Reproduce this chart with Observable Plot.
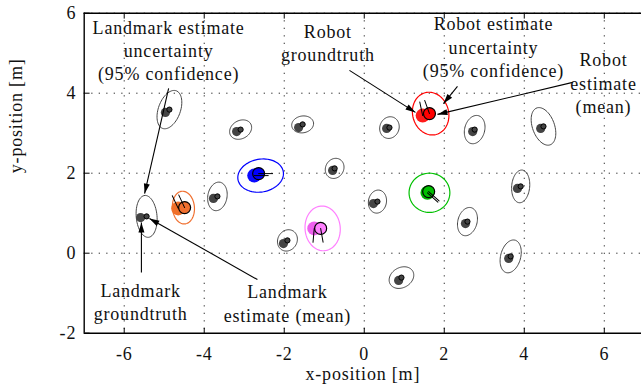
<!DOCTYPE html>
<html><head><meta charset="utf-8">
<script src="https://cdn.jsdelivr.net/npm/d3@7"></script>
<script src="https://cdn.jsdelivr.net/npm/@observablehq/plot@0.6"></script>
<style>body{margin:0;background:#fff} svg{display:block} svg text, svg tspan{font-family:"Liberation Serif" !important;}</style>
</head><body><div id="chart"></div>
<script>
// ---- axes ----
const xTicks = [-6, -4, -2, 0, 2, 4, 6];
const yTicks = [-2, 0, 2, 4, 6];
const xGrid = [-6, -4, -2, 0, 2, 4, 6];
const yGrid = [0, 2, 4, 6];

// ---- landmarks ----
const lmGtX  = [-4.97, -3.19, -1.64, -0.79, 0.56, 2.71, 4.41, 0.23, 2.53, 3.83, 3.61, 0.86, -2.02, -3.77, -5.59];
const lmGtY  = [ 3.52,  3.04,  3.14,  2.07, 3.12, 3.04, 3.12, 1.24, 0.74, 1.62, -0.13, -0.68, 0.24, 1.37, 0.89];
const lmEstX = [-4.87, -3.09, -1.54, -0.74, 0.63, 2.76, 4.48, 0.33, 2.58, 3.91, 3.66, 0.93, -1.92, -3.67, -5.44];
const lmEstY = [ 3.59,  3.09,  3.22,  2.12, 3.14, 3.09, 3.17, 1.29, 0.79, 1.67, -0.08, -0.61, 0.32, 1.42, 0.92];
// 95% ellipse: semi-axes (m) and orientation (deg)
const lmEllA = [0.50, 0.29, 0.275, 0.26, 0.275, 0.36, 0.49, 0.29, 0.36, 0.41, 0.42, 0.325, 0.275, 0.36, 0.525];
const lmEllB = [0.275, 0.225, 0.21, 0.225, 0.24, 0.25, 0.275, 0.225, 0.24, 0.225, 0.25, 0.25, 0.24, 0.24, 0.26];
const lmEllDeg = [70, 30, 10, 60, 70, 75, 110, 80, 75, 85, 75, 30, 60, 80, 95];

// ---- robots ----
const robotColor = ["#ff0000", "#00c000", "#0000ff", "#f07030", "#ff80ff"];
const robotGtFill = ["#ff1a1a", "#00b400", "#0a0aff", "#f0702a", "#ee60ee"];
const robotGtX  = [1.46, 1.58, -2.75, -4.65, -1.25];
const robotGtY  = [3.44, 1.51, 1.94, 1.12, 0.62];
const robotEstX = [1.63, 1.61, -2.64, -4.49, -1.09];
const robotEstY = [3.49, 1.54, 1.99, 1.14, 0.62];
const robotGtHeading  = [102, -42, 0, 115, -95];
const robotEstHeading = [110, -42, 0, 115, -80];
const robotEllX = [1.66, 1.63, -2.59, -4.52, -1.04];
const robotEllY = [3.49, 1.51, 1.94, 1.14, 0.62];
const robotEllA = [0.54, 0.51, 0.575, 0.41, 0.56];
const robotEllB = [0.45, 0.49, 0.41, 0.275, 0.44];
const robotEllDeg = [105, 0, 10, 95, 95];

// ---- annotations ----
const annText = ["Landmark estimate\nuncertainty\n(95% confidence)", "Robot\ngroundtruth",
  "Robot estimate\nuncertainty\n(95% confidence)", "Robot\nestimate\n(mean)",
  "Landmark\ngroundtruth", "Landmark\nestimate (mean)"];
const annX = [-4.89, -0.91, 3.23, 5.98, -5.59, -1.92];
const annY = [5.09, 5.28, 5.17, 4.27, -1.19, -1.23];
const arrowX1 = [-4.89, -0.37, 2.33, 5.21, -5.57, -2.67];
const arrowY1 = [4.12, 4.57, 4.17, 4.27, -0.48, -0.66];
const arrowX2 = [-5.49, 1.28, 1.98, 1.83, -5.57, -5.37];
const arrowY2 = [1.49, 3.52, 3.74, 3.47, 0.77, 0.87];

// ---- build tables ----
function ellipseRows(cx, cy, a, b, deg, id, color) {
  const th = deg * Math.PI / 180;
  return d3.range(0, 360, 5).map(t => {
    const r = t * Math.PI / 180;
    return {id, color,
      x: cx + a * Math.cos(r) * Math.cos(th) - b * Math.sin(r) * Math.sin(th),
      y: cy + a * Math.cos(r) * Math.sin(th) + b * Math.sin(r) * Math.cos(th)};
  });
}
const lmEll = lmEstX.flatMap((cx, i) => ellipseRows(cx, lmEstY[i], lmEllA[i], lmEllB[i], lmEllDeg[i], "L" + i, "#454545"));
const robEll = robotEllX.flatMap((cx, i) => ellipseRows(cx, robotEllY[i], robotEllA[i], robotEllB[i], robotEllDeg[i], "R" + i, robotColor[i]));
const landmarks = lmGtX.map((x, i) => ({gx: x, gy: lmGtY[i], ex: lmEstX[i], ey: lmEstY[i]}));
const robots = robotGtX.map((x, i) => ({gx: x, gy: robotGtY[i], ex: robotEstX[i], ey: robotEstY[i],
  gh: robotGtHeading[i], eh: robotEstHeading[i], color: robotColor[i], gfill: robotGtFill[i]}));
const anns = annText.map((t, i) => ({t, x: annX[i], y: annY[i]}));
const arrows = arrowX1.map((x, i) => ({x1: x, y1: arrowY1[i], x2: arrowX2[i], y2: arrowY2[i]}));

const lineShape = {draw(context, l) { context.moveTo(0, 0); context.lineTo(0, -l); }};
const headSymbol = {draw(context) { context.moveTo(0, 0); context.lineTo(-3, 10); context.lineTo(3, 10); context.closePath(); }};
const fmt = d => String(d);

const chart = Plot.plot({
  width: 641, height: 390,
  marginLeft: 83.7, marginRight: 0, marginTop: 12.7, marginBottom: 57.3,
  style: {fontFamily: "'Liberation Serif'", fontSize: "18px", background: "white", color: "#111", letterSpacing: "0.8px"},
  x: {domain: [-7, 6.93]},
  y: {domain: [-2, 6]},
  marks: [
    Plot.gridX(xGrid, {stroke: "#333", strokeOpacity: 1, strokeDasharray: "1.3,6.2"}),
    Plot.gridY(yGrid, {stroke: "#333", strokeOpacity: 1, strokeDasharray: "1.3,6.2"}),
    Plot.line(lmEll, {x: "x", y: "y", z: "id", curve: "linear-closed", stroke: "#454545", strokeWidth: 1}),
    Plot.line(robEll, {x: "x", y: "y", z: "id", curve: "linear-closed", stroke: "color", strokeWidth: 1.2}),
    Plot.dot(landmarks, {x: "gx", y: "gy", r: 4.6, fill: "#444", stroke: "none"}),
    Plot.dot(landmarks, {x: "ex", y: "ey", r: 2.6, fill: "#444", stroke: "#000", strokeWidth: 1}),
    Plot.dot(robots, {x: "gx", y: "gy", r: 7, fill: "gfill", stroke: "none"}),
    Plot.dot(robots, {x: "ex", y: "ey", r: 6, fill: "color", stroke: "#000", strokeWidth: 1.2}),
    Plot.vector(robots, {x: "gx", y: "gy", rotate: d => 90 - d.gh, length: 14, anchor: "start", shape: lineShape, stroke: "#000", strokeWidth: 1}),
    Plot.vector(robots, {x: "ex", y: "ey", rotate: d => 90 - d.eh, length: 14, anchor: "start", shape: lineShape, stroke: "#000", strokeWidth: 1}),
    Plot.link(arrows, {x1: "x1", y1: "y1", x2: "x2", y2: "y2", stroke: "#000", strokeWidth: 1.1}),
    Plot.dot(arrows, {x: "x2", y: "y2", symbol: headSymbol, fill: "#000", stroke: "none",
      rotate: d => Math.atan2(d.x2 - d.x1, d.y2 - d.y1) * 180 / Math.PI}),
    Plot.text(anns, {x: "x", y: "y", text: "t", lineHeight: 1.3, fill: "#111", fontSize: 18}),
    // frame (left, top, bottom)
    Plot.ruleX([-7], {stroke: "#000", strokeWidth: 1.4}),
    Plot.ruleY([-2, 6], {stroke: "#000", strokeWidth: 1.4}),
    // inward ticks
    Plot.vector(xTicks, {x: d => d, frameAnchor: "bottom", length: 5, anchor: "start", rotate: 0, shape: lineShape, stroke: "#000", strokeWidth: 1}),
    Plot.vector(xTicks, {x: d => d, frameAnchor: "top", length: 5, anchor: "start", rotate: 180, shape: lineShape, stroke: "#000", strokeWidth: 1}),
    Plot.vector(yTicks, {y: d => d, frameAnchor: "left", length: 5, anchor: "start", rotate: 90, shape: lineShape, stroke: "#000", strokeWidth: 1}),
    Plot.axisX(xTicks, {tickSize: 0, tickPadding: 14, tickFormat: fmt, label: null, fontSize: 18}),
    Plot.axisY(yTicks, {tickSize: 0, tickPadding: 8, tickFormat: fmt, label: null, fontSize: 18}),
    Plot.text(["x-position [m]"], {frameAnchor: "bottom", dy: 47, text: d => d, fontSize: 18}),
    Plot.text(["y-position [m]"], {frameAnchor: "left", dx: -68, rotate: -90, text: d => d, fontSize: 18})
  ]
});
document.getElementById("chart").append(chart);
</script>
</body></html>
